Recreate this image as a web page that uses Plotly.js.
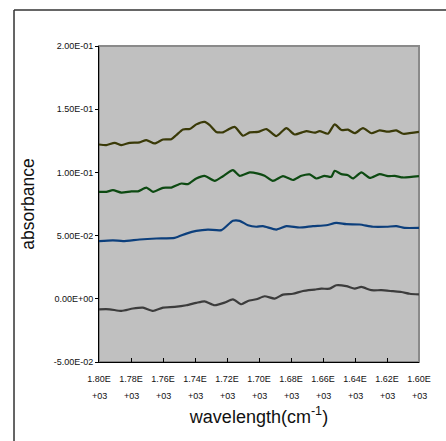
<!DOCTYPE html>
<html>
<head>
<meta charset="utf-8">
<script src="https://cdn.plot.ly/plotly-3.0.1.min.js"></script>
<style>html,body{margin:0;padding:0;background:#fff;}#chart{width:446px;height:441px;}</style>
</head>
<body>
<div id="chart"></div>
<script>
// wavenumber (cm-1) and absorbance for each spectrum
const wnA = [1800,1795.4,1790.2,1786,1780.8,1774.6,1770.4,1765.2,1760,1754.8,1751.7,1747.5,1743.3,1739.2,1734,1730.8,1726.7,1722.5,1719.4,1715.2,1710,1705.8,1700.6,1695.4,1689.2,1682.9,1677.7,1670.4,1665.2,1662.1,1656.9,1652.7,1648.5,1644.4,1640.2,1635,1629.8,1624.6,1619.4,1614.2,1610,1600];
const absA = [0.1221,0.1216,0.1234,0.1216,0.1234,0.1237,0.1256,0.1229,0.1260,0.1263,0.1295,0.1340,0.1343,0.1380,0.1400,0.1374,0.1320,0.1317,0.1338,0.1360,0.1290,0.1317,0.1320,0.1343,0.1287,0.1350,0.1300,0.1327,0.1314,0.1327,0.1306,0.1380,0.1335,0.1338,0.1310,0.1350,0.1310,0.1332,0.1322,0.1332,0.1306,0.1320];

const wnB = [1800,1795.4,1791.3,1786,1779.8,1775.6,1770.4,1766.2,1760,1754.8,1748.5,1744.4,1739.2,1734,1727.7,1722.5,1716.3,1712.1,1705.8,1700.6,1696.5,1691.3,1685,1678.8,1673.5,1668.3,1664.2,1659,1654.8,1652.7,1648.5,1644.4,1641.3,1636,1630.8,1624.6,1619.4,1615.2,1610,1600];
const absB = [0.0846,0.0846,0.0860,0.0840,0.0850,0.0850,0.0880,0.0846,0.0878,0.0880,0.0912,0.0907,0.0952,0.0973,0.0933,0.0970,0.1018,0.0973,0.1000,0.0990,0.0973,0.0933,0.0970,0.0940,0.0973,0.0984,0.0952,0.0973,0.0965,0.1013,0.0986,0.0978,0.0952,0.1000,0.0957,0.0986,0.0970,0.0973,0.0960,0.0970];

const wnC = [1800,1791.3,1785,1774.6,1764.2,1752.7,1745.4,1739.2,1731.9,1723.5,1716.3,1712.1,1706.9,1701.7,1697.5,1689.2,1682.9,1674.6,1666.3,1658,1651.7,1645.4,1637.1,1628.8,1620.4,1614.2,1609,1600];
const absC = [0.0456,0.0463,0.0456,0.0469,0.0477,0.0482,0.0516,0.0537,0.0548,0.0543,0.0617,0.0617,0.0582,0.0570,0.0575,0.0548,0.0575,0.0564,0.0575,0.0582,0.0600,0.0590,0.0588,0.0570,0.0570,0.0575,0.0561,0.0561];

const wnD = [1800,1793.3,1786,1778.8,1772.5,1766.2,1760,1752.7,1745.4,1739.2,1734,1727.7,1721.5,1716.3,1711,1706.9,1701.7,1696.5,1690.2,1685,1678.8,1672.5,1665.2,1661,1655.8,1651.7,1645.4,1640.2,1636,1629.8,1623.5,1616.3,1611,1605.8,1600];
const absD = [-0.0083,-0.0083,-0.0096,-0.0077,-0.0070,-0.0096,-0.0070,-0.0064,-0.0051,-0.0032,-0.0020,-0.0051,-0.0030,-0.0004,-0.0043,-0.0017,-0.0004,0.0020,0.0002,0.0033,0.0040,0.0062,0.0073,0.0080,0.0080,0.0107,0.0100,0.0080,0.0094,0.0068,0.0068,0.0060,0.0054,0.0040,0.0035];

const xTickVals = [1800,1780,1760,1740,1720,1700,1680,1660,1640,1620,1600];
const xTickTop = ["1.80E","1.78E","1.76E","1.74E","1.72E","1.70E","1.68E","1.66E","1.64E","1.62E","1.60E"];
const xTickBottom = ["+03","+03","+03","+03","+03","+03","+03","+03","+03","+03","+03"];
const yTickVals = [-0.05,0,0.05,0.10,0.15,0.20];
const yTickText = ["-5.00E-02","0.00E+00","5.00E-02","1.00E-01","1.50E-01","2.00E-01"];

const colors = ["#3a3a08","#0d4a12","#0c3f7c","#3c3c3c"];
const series = [[wnA,absA],[wnB,absB],[wnC,absC],[wnD,absD]];

const traces = series.map((s,i)=>({
  x: s[0], y: s[1], type:'scatter', mode:'lines',
  line:{color:colors[i], width:2.2, shape:'spline', smoothing:0.6},
  hoverinfo:'skip', showlegend:false
}));

const font = {family:'"Liberation Sans", Arial, sans-serif', color:'#111'};

const annotations = xTickVals.map((v,i)=>({
  x:v, xref:'x', y:0, yref:'paper', yshift:-34, text:xTickBottom[i],
  showarrow:false, font:Object.assign({}, font, {size:9}), xanchor:'center', yanchor:'middle'
}));

const layout = {
  width:446, height:441,
  margin:{l:99, r:27, t:46, b:79},
  paper_bgcolor:'#ffffff', plot_bgcolor:'#c0c0c0',
  font: font,
  showlegend:false,
  xaxis:{
    range:[1800,1600], autorange:false,
    tickmode:'array', tickvals:xTickVals, ticktext:xTickTop,
    ticks:'inside', ticklen:4, tickcolor:'#000', tickwidth:1,
    showgrid:false, zeroline:false,
    showline:true, linecolor:'#000', linewidth:1,
    tickfont:Object.assign({}, font, {size:9}),
    ticklabelstandoff:8,
    title:{text:'wavelength(cm<sup>-1</sup>)', font:Object.assign({}, font, {size:18}), standoff:27}
  },
  yaxis:{
    range:[-0.05,0.2], autorange:false,
    tickmode:'array', tickvals:yTickVals, ticktext:yTickText,
    ticks:'outside', ticklen:3, tickcolor:'#000', tickwidth:1,
    showgrid:false, zeroline:false,
    showline:true, linecolor:'#000', linewidth:1,
    tickfont:Object.assign({}, font, {size:9}),
    title:{text:'absorbance', font:Object.assign({}, font, {size:17.5}), standoff:14}
  },
  annotations: annotations,
  shapes:[
    {type:'rect', xref:'paper', yref:'paper', x0:0, x1:1, y0:0, y1:1, line:{color:'#8a8a8a', width:2}, layer:'below'},
    {type:'line', xref:'paper', yref:'paper', x0:-0.2656, x1:1.2, y0:1.1139, y1:1.1139, line:{color:'#333', width:1.5}},
    {type:'line', xref:'paper', yref:'paper', x0:-0.2656, x1:-0.2656, y0:1.1139, y1:-0.4, line:{color:'#333', width:1.5}}
  ]
};

Plotly.newPlot('chart', traces, layout, {staticPlot:true, displayModeBar:false});
</script>
</body>
</html>
